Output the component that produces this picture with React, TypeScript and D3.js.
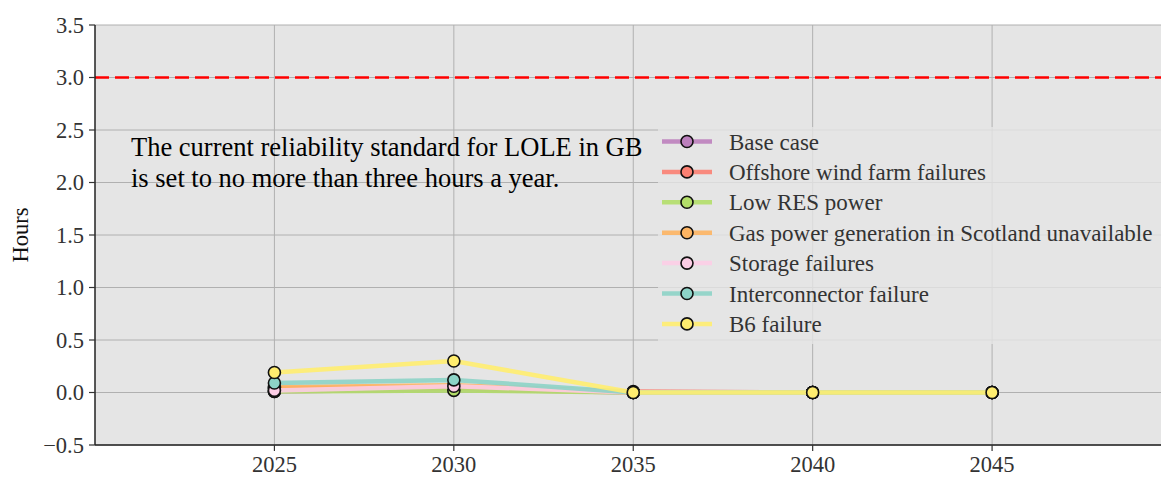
import React from "react";
import * as d3 from "d3";

const years = [2025, 2030, 2035, 2040, 2045];
const seriesNames = [
  "Base case",
  "Offshore wind farm failures",
  "Low RES power",
  "Gas power generation in Scotland unavailable",
  "Storage failures",
  "Interconnector failure",
  "B6 failure",
];
const seriesColors = ["#bc80bd", "#fb8072", "#b3de69", "#fdb462", "#fccde5", "#8dd3c7", "#ffed6f"];
const baseCase = [0.01, 0.03, 0, 0, 0];
const offshore = [0.04, 0.05, 0.01, 0, 0];
const lowRes = [0.01, 0.02, 0, 0, 0];
const gasScotland = [0.05, 0.07, 0, 0, 0];
const storage = [0.02, 0.06, 0, 0, 0];
const interconnector = [0.09, 0.12, 0, 0, 0];
const b6 = [0.19, 0.3, 0, 0, 0];
const seriesValues = [baseCase, offshore, lowRes, gasScotland, storage, interconnector, b6];
const yTicks = [-0.5, 0, 0.5, 1, 1.5, 2, 2.5, 3, 3.5];
const xTicks = [2025, 2030, 2035, 2040, 2045];
const standard = 3.0;
const noteLines = [
  "The current reliability standard for LOLE in GB",
  "is set to no more than three hours a year.",
];

const W = 1161;
const H = 477;
const left = 95;
const right = 1171.5;
const top = 25;
const bottom = 445;
const font = "'Liberation Serif', 'DejaVu Serif', serif";

export default function App() {
  const x = d3.scaleLinear().domain([2020, 2050]).range([left, right]);
  const y = d3.scaleLinear().domain([-0.5, 3.5]).range([bottom, top]);
  const line = d3
    .line<number>()
    .x((_, i) => x(years[i]))
    .y((d) => y(d));
  const fmt = (v: number) => (v < 0 ? "\u2212" + Math.abs(v).toFixed(1) : v.toFixed(1));
  const legX = 662;
  const legY0 = 141.5;
  const legDy = 30.4;

  return (
    <svg width={W} height={H} style={{ position: "absolute", left: 0, top: 0 }}>
      <rect x={left} y={top} width={W - left} height={bottom - top} fill="#e5e5e5" />
      {yTicks.map((t) => (
        <line key={"gy" + t} x1={left} x2={W} y1={y(t)} y2={y(t)} stroke="#b0b0b0" strokeWidth={1} />
      ))}
      {xTicks.map((t) => (
        <line key={"gx" + t} x1={x(t)} x2={x(t)} y1={top} y2={bottom} stroke="#b0b0b0" strokeWidth={1} />
      ))}
      <line x1={left} x2={W} y1={y(standard)} y2={y(standard)} stroke="#ff0000" strokeWidth={2.6} strokeDasharray="14,6" />
      {seriesValues.map((vals, si) => (
        <g key={"s" + si}>
          <path d={line(vals) || ""} fill="none" stroke={seriesColors[si]} strokeWidth={4.5} strokeOpacity={0.9} />
          {vals.map((v, i) => (
            <circle key={i} cx={x(years[i])} cy={y(v)} r={6} fill={seriesColors[si]} stroke="#111" strokeWidth={1.6} />
          ))}
        </g>
      ))}
      {/* legend */}
      <rect x={658} y={127} width={W - 658 + 10} height={217} fill="#e5e5e5" fillOpacity={0.8} />
      {seriesNames.map((name, i) => {
        const ly = legY0 + i * legDy;
        return (
          <g key={"l" + i}>
            <line x1={legX} x2={legX + 50} y1={ly} y2={ly} stroke={seriesColors[i]} strokeWidth={4.5} strokeOpacity={0.9} />
            <circle cx={legX + 25} cy={ly} r={6} fill={seriesColors[i]} stroke="#111" strokeWidth={1.6} />
            <text x={729} y={ly} dy="0.35em" fontFamily={font} fontSize={23} fill="#333">
              {name}
            </text>
          </g>
        );
      })}
      {/* note */}
      {noteLines.map((t, i) => (
        <text key={"n" + i} x={131} y={156 + i * 30.5} fontFamily={font} fontSize={26.5} fill="#000">
          {t}
        </text>
      ))}
      {/* spines */}
      <line x1={left} x2={left} y1={top} y2={bottom} stroke="#222" strokeWidth={1.5} />
      <line x1={left} x2={W} y1={bottom} y2={bottom} stroke="#222" strokeWidth={1.5} />
      {yTicks.map((t) => (
        <g key={"yt" + t}>
          <line x1={left - 6} x2={left} y1={y(t)} y2={y(t)} stroke="#333" strokeWidth={1.2} />
          <text x={left - 11} y={y(t)} dy="0.35em" textAnchor="end" fontFamily={font} fontSize={22.5} fill="#333">
            {fmt(t)}
          </text>
        </g>
      ))}
      {xTicks.map((t) => (
        <g key={"xt" + t}>
          <line x1={x(t)} x2={x(t)} y1={bottom} y2={bottom + 6} stroke="#333" strokeWidth={1.2} />
          <text x={x(t)} y={bottom + 27} textAnchor="middle" fontFamily={font} fontSize={22.5} fill="#333">
            {t}
          </text>
        </g>
      ))}
      <text
        transform={`translate(28,${(top + bottom) / 2}) rotate(-90)`}
        textAnchor="middle"
        fontFamily={font}
        fontSize={22.5}
        fill="#111"
      >
        Hours
      </text>
    </svg>
  );
}
